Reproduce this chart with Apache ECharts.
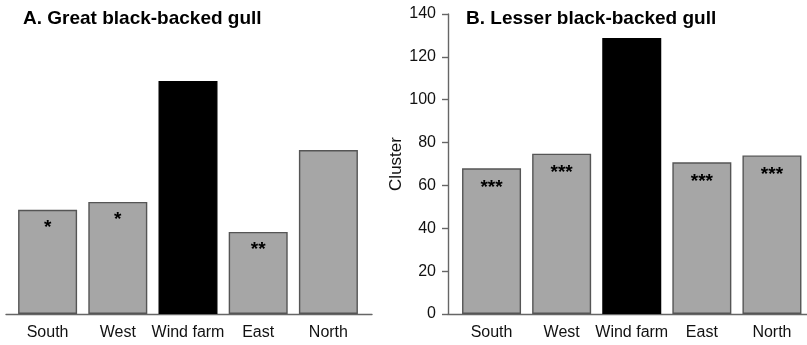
<!DOCTYPE html>
<html>
<head>
<meta charset="utf-8">
<script src="https://cdn.jsdelivr.net/npm/echarts@6/dist/echarts.min.js"></script>
<style>html,body{margin:0;padding:0;background:#fff;}#c{width:807px;height:345px;}</style>
</head>
<body>
<div id="c"></div>
<script>
var categories = ['South', 'West', 'Wind farm', 'East', 'North'];
var greatValues = [48.6, 52.3, 108.7, 38.3, 76.5];
var greatStars = ['*', '*', '', '**', ''];
var lesserValues = [68, 74.8, 128.8, 70.8, 74];
var lesserStars = ['***', '***', '', '***', '***'];
var yTicks = [0, 20, 40, 60, 80, 100, 120, 140];
var titles = ['A. Great black-backed gull', 'B. Lesser black-backed gull'];
var yName = 'Cluster';

var GRAY = '#a6a6a6', EDGE = '#555555', AX = '#666666';
var FONT = 'Liberation Sans, Arial, sans-serif';

function barData(vals, stars, dist) {
  return vals.map(function (v, i) {
    var wind = categories[i] === 'Wind farm';
    return {
      value: v,
      itemStyle: { color: wind ? '#000' : GRAY, borderColor: wind ? '#000' : EDGE, borderWidth: 1.4 },
      label: { show: !!stars[i], formatter: stars[i], position: 'insideTop', distance: dist,
        color: '#000', fontSize: 19, fontWeight: 'bold', fontFamily: FONT }
    };
  });
}

var chart = echarts.init(document.getElementById('c'), null, { renderer: 'canvas' });
chart.setOption({
  animation: false,
  backgroundColor: '#fff',
  title: [
    { text: titles[0], left: 18, top: 4, textStyle: { fontSize: 19, fontWeight: 'bold', color: '#000', fontFamily: FONT } },
    { text: titles[1], left: 461, top: 4, textStyle: { fontSize: 19, fontWeight: 'bold', color: '#000', fontFamily: FONT } }
  ],
  grid: [
    { left: 12.5, width: 351, top: 14, bottom: 31 },
    { left: 456.5, width: 351, top: 14, bottom: 31 },
    { left: 6, width: 366, top: 14, bottom: 31 },
    { left: 448, width: 359, top: 14, bottom: 31 }
  ],
  xAxis: [
    { type: 'category', gridIndex: 0, data: categories, axisLine: { show: false }, axisTick: { show: false },
      axisLabel: { color: '#111', fontSize: 16, margin: 11, fontFamily: FONT, interval: 0 } },
    { type: 'category', gridIndex: 1, data: categories, axisLine: { show: false }, axisTick: { show: false },
      axisLabel: { color: '#111', fontSize: 16, margin: 11, fontFamily: FONT, interval: 0 } },
    { type: 'category', gridIndex: 2, data: [], axisLine: { show: true, lineStyle: { color: AX, width: 1.4 } },
      axisTick: { show: false }, axisLabel: { show: false } },
    { type: 'category', gridIndex: 3, data: [], axisLine: { show: true, lineStyle: { color: AX, width: 1.4 } },
      axisTick: { show: false }, axisLabel: { show: false } }
  ],
  yAxis: [
    { type: 'value', gridIndex: 0, min: 0, max: 140, interval: 20, show: false },
    { type: 'value', gridIndex: 1, min: 0, max: 140, interval: 20, offset: 8.5,
      name: yName, nameLocation: 'middle', nameGap: 43, nameRotate: 90,
      nameTextStyle: { fontSize: 17, color: '#111', fontFamily: FONT },
      axisLine: { show: true, lineStyle: { color: AX, width: 1.4 } },
      axisTick: { show: true, length: 6, lineStyle: { color: AX, width: 1.4 } },
      axisLabel: { color: '#111', fontSize: 16, margin: 12, fontFamily: FONT,
        formatter: function (v) { return yTicks.indexOf(v) >= 0 ? String(v) : ''; } },
      splitLine: { show: false } },
    { type: 'value', gridIndex: 2, min: 0, max: 140, show: false },
    { type: 'value', gridIndex: 3, min: 0, max: 140, show: false }
  ],
  series: [
    { type: 'bar', xAxisIndex: 0, yAxisIndex: 0, barWidth: 59, data: barData(greatValues, greatStars, 8) },
    { type: 'bar', xAxisIndex: 1, yAxisIndex: 1, barWidth: 59, data: barData(lesserValues, lesserStars, 10) }
  ]
});
</script>
</body>
</html>
